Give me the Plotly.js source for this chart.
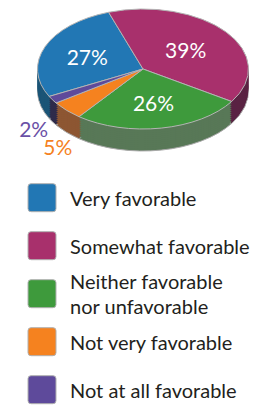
<!DOCTYPE html>
<html><head><meta charset="utf-8">
<script src="https://cdn.plot.ly/plotly-3.0.1.min.js"></script>
<style>html,body{margin:0;padding:0;background:#fff;} #chart{width:263px;height:405px;}</style>
</head><body><div id="chart"></div>
<script>
// ---- data ----
const labels = ['Very favorable','Somewhat favorable','Neither favorable<br>nor unfavorable','Not very favorable','Not at all favorable'];
const values = [27, 39, 26, 5, 2];
const topColors = ['#2277b4','#a8306c','#3e9a3c','#f5821f','#5e4a9b'];
const sideColors = ['#1b5577','#5a2343','#587857','#8d5632','#2e2a4a'];
const labelColors = ['#ffffff','#ffffff','#ffffff','#f5821f','#6a50a6'];
const labelPositions = ['inside','inside','inside','outside','outside'];

// ---- geometry / style ----
const W = 263, H = 405;
const CX = 143, CY = 69, RX = 105.5, RY = 60, DEPTH = 22, STEP = 2;
const ROT = -117.2;
const outShiftX = [0, 0, 0, 12, 2];
const outShiftY = [0, 0, 0, 31, 27];
const domain = {x: [(CX - RX) / W, (CX + RX) / W], y: [1 - 2 * RX / H, 1]};
const nLayers = Math.round(DEPTH / STEP);
const traces = [], offsets = [];
for (let k = nLayers; k >= 1; k--) {
  traces.push({
    type: 'pie', labels: labels, values: values, sort: false, direction: 'clockwise',
    rotation: ROT, domain: domain,
    marker: {colors: sideColors, line: {color: k === nLayers ? '#a9a9a9' : 'rgba(0,0,0,0)', width: k === nLayers ? 1 : 0}},
    textinfo: 'none', showlegend: false, hoverinfo: 'skip'
  });
  offsets.push(k * STEP);
}
traces.push({
  type: 'pie', labels: labels, values: values, sort: false, direction: 'clockwise',
  rotation: ROT, domain: domain,
  marker: {colors: topColors, line: {color: '#b4b4b4', width: 1}},
  textinfo: 'value', texttemplate: '%{value}%', textposition: labelPositions,
  insidetextorientation: 'horizontal',
  textfont: {family: 'Lato, sans-serif', size: 21, color: labelColors},
  hoverinfo: 'skip', showlegend: true
});
offsets.push(0);

const layout = {
  width: W, height: H, margin: {l: 0, r: 0, t: 0, b: 0},
  paper_bgcolor: '#ffffff',
  showlegend: true,
  legend: {x: 0.05, xanchor: 'left', y: 0.5, yanchor: 'top', bgcolor: 'rgba(0,0,0,0)',
    font: {family: 'Lato, sans-serif', size: 20, color: '#231f20'}, traceorder: 'normal'}
};

Plotly.newPlot('chart', traces, layout, {staticPlot: true, displayModeBar: false}).then(function (gd) {
  // squash pies into a tilted ellipse with depth
  document.querySelectorAll('.pielayer .trace').forEach(function (g) {
    const cd = g.__data__; const cd0 = cd[0]; const idx = cd0.trace.index;
    const sx = RX / cd0.r, sy = RY / cd0.r;
    const tx = CX - sx * cd0.cx, ty = CY + offsets[idx] - sy * cd0.cy;
    g.setAttribute('transform', 'translate(' + tx + ',' + ty + ') scale(' + sx + ',' + sy + ')');
    g.querySelectorAll('path').forEach(function (p) { p.setAttribute('vector-effect', 'non-scaling-stroke'); });
    g.querySelectorAll('path.textline').forEach(function (p) { p.remove(); });
    g.querySelectorAll('g.slice').forEach(function (sl) {
      const pt = sl.__data__;
      const t = sl.querySelector('text');
      if (!t) return;
      const b = t.getBBox(); const bx = b.x + b.width / 2, by = b.y + b.height / 2;
      let tr = t.getAttribute('transform') || '';
      if (labelPositions[pt.i] === 'outside') {
        tr = 'translate(' + (outShiftX[pt.i] / sx) + ',' + (outShiftY[pt.i] / sy) + ') ' + tr;
      }
      t.setAttribute('transform', tr + ' translate(' + bx + ',' + by + ') scale(' + (1 / sx) + ',' + (1 / sy) + ') translate(' + (-bx) + ',' + (-by) + ')');
    });
  });
  // legend: equal spacing and larger swatches
  const GAP = 48, SQ = 28, SQGAP = 14;
  const sqPath = 'M-11,-14H11Q14,-14 14,-11V11Q14,14 11,14H-11Q-14,14 -14,11V-11Q-14,-14 -11,-14Z';
  const items = Array.from(document.querySelectorAll('.legend .traces'));
  const m = /translate\(([-\d.e]+)[ ,]+([-\d.e]+)\)/.exec(items[0].getAttribute('transform'));
  const x0 = +m[1], y0 = +m[2];
  items.forEach(function (it, i) {
    it.setAttribute('transform', 'translate(' + x0 + ',' + (y0 + i * GAP) + ')');
    const p = it.querySelector('path.legendpie');
    const t = it.querySelector('text.legendtext');
    const txx = +t.getAttribute('x');
    p.setAttribute('d', sqPath);
    p.setAttribute('transform', 'translate(' + (txx - SQGAP - SQ / 2) + ',0)');
    p.style.stroke = '#b0b0b0'; p.style.strokeWidth = '1px';
  });
  document.querySelectorAll('.legend .scrollbox').forEach(function (e) { e.removeAttribute('clip-path'); });
  const lg = document.querySelector('.legend');
  const ml = /translate\(([-\d.e]+)[ ,]+([-\d.e]+)\)/.exec(lg.getAttribute('transform'));
  const r0 = items[0].querySelector('path.legendpie').getBoundingClientRect();
  const dx = 28 - r0.left, dy = 197.7 - (r0.top + r0.height / 2);
  lg.setAttribute('transform', 'translate(' + (+ml[1] + dx) + ',' + (+ml[2] + dy) + ')');
});
</script>
</body></html>
